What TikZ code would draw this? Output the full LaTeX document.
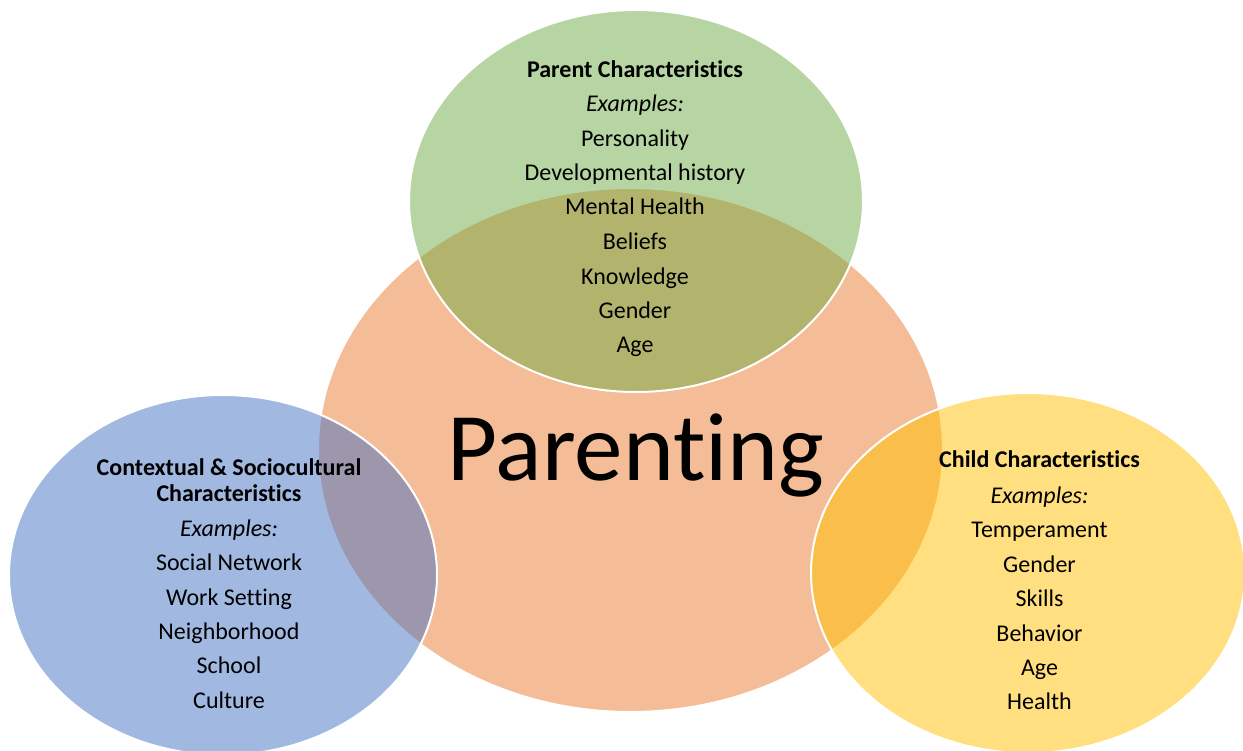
\documentclass[tikz,border=0pt]{standalone}
\usepackage{fontspec}
\setmainfont{Carlito}[Ligatures=CommonOff]
\definecolor{orangeA}{HTML}{ED7D31}
\definecolor{greenA}{HTML}{70AD47}
\definecolor{blueA}{HTML}{4472C4}
\definecolor{goldA}{HTML}{FFC000}
\begin{document}
\begin{tikzpicture}[x=1pt,y=-1pt,
  circ/.style={fill opacity=0.5, draw=white, draw opacity=1, line width=2pt},
  txt/.style={anchor=base, inner sep=0pt, font=\fontsize{24}{28}\selectfont},
  ttl/.style={txt, font=\fontsize{24}{28}\selectfont\bfseries},
  exm/.style={txt, font=\fontsize{24}{28}\selectfont\itshape}]
\useasboundingbox (0,0) rectangle (1243,751);
\clip (0,0) rectangle (1243,751);
\fill[white] (0,0) rectangle (1243,751);
% circles
\path[circ, fill=orangeA] (630.5,450) ellipse [x radius=312.5, y radius=262];
\path[circ, fill=greenA] (636,201) ellipse [x radius=227, y radius=191];
\path[circ, fill=blueA] (223,575) ellipse [x radius=214, y radius=180];
\path[circ, fill=goldA] (1028,573) ellipse [x radius=217, y radius=180];
% central label
\node[anchor=base, inner sep=0pt, font=\fontsize{97}{100}\selectfont] (par) at (636,480) {Parenting};
% parent
\node[ttl] (p0) at (635,77.6) {Parent Characteristics};
\node[exm] (p1) at (635,112) {Examples:};
\node[txt] (p2) at (635,146.7) {Personality};
\node[txt] (p3) at (635,181) {Developmental history};
\node[txt] (p4) at (635,215) {Mental Health};
\node[txt] (p5) at (635,250) {Beliefs};
\node[txt] (p6) at (635,285) {Knowledge};
\node[txt] (p7) at (635,319) {Gender};
\node[txt] (p8) at (635,353) {Age};
% context
\node[ttl] (c0) at (229,475) {Contextual \& Sociocultural};
\node[ttl] (c0b) at (229,501.7) {Characteristics};
\node[exm] (c1) at (229,536) {Examples:};
\node[txt] (c2) at (229,570) {Social Network};
\node[txt] (c3) at (229,605) {Work Setting};
\node[txt] (c4) at (229,639) {Neighborhood};
\node[txt] (c5) at (229,673) {School};
\node[txt] (c6) at (229,708) {Culture};
% child
\node[ttl] (k0) at (1039.5,467) {Child Characteristics};
\node[exm] (k1) at (1039.5,503) {Examples:};
\node[txt] (k2) at (1039.5,537) {Temperament};
\node[txt] (k3) at (1039.5,572) {Gender};
\node[txt] (k4) at (1039.5,606) {Skills};
\node[txt] (k5) at (1039.5,641) {Behavior};
\node[txt] (k6) at (1039.5,675) {Age};
\node[txt] (k7) at (1039.5,709) {Health};
\end{tikzpicture}
\end{document}
